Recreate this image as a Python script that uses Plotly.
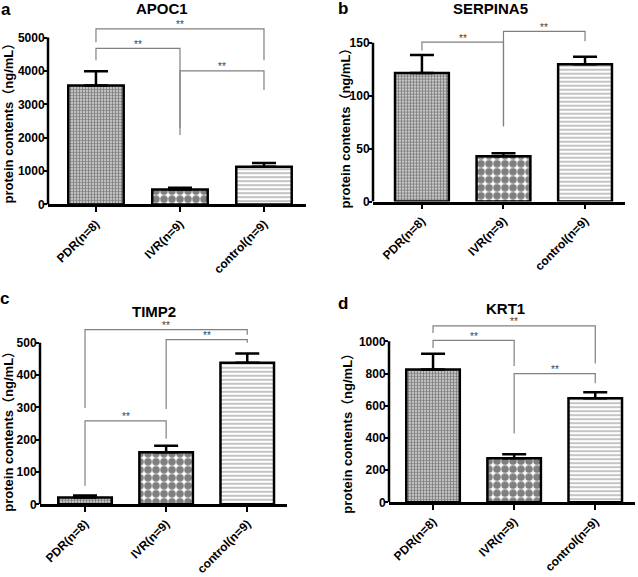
import plotly.graph_objects as go

groups = ["PDR(n=8)", "IVR(n=9)", "control(n=9)"]

apoc1_mean = [3560, 450, 1130]
apoc1_err = [430, 50, 110]
serpina5_mean = [121.5, 42.7, 129.7]
serpina5_err = [17, 3, 7]
timp2_mean = [21, 161, 438]
timp2_err = [6, 20, 29]
krt1_mean = [825, 274, 647]
krt1_err = [97, 25, 37]

# significance brackets: (left group, right group, bar height, left leg bottom, right leg bottom)
apoc1_sig = [(0, 2, 5257, 4860, 4320), (0, 1, 4675, 4320, 2300), (1, 2, 4000, 2080, 3430)]
serpina5_sig = [(0, 1, 150.6, 142.8, 71.2), (1, 2, 160.8, 71.2, 151.5)]
timp2_sig = [(0, 2, 541, 298, 525), (1, 2, 510, 295, 500), (0, 1, 258, 57.5, 203)]
krt1_sig = [(0, 2, 1096, 1051, 862), (0, 1, 1006, 959, 846), (1, 2, 799, 428, 740)]

W, H = 638, 577
FONT = "Liberation Sans, Arial, sans-serif"

patterns = [
    dict(shape=".", size=3, solidity=0.7, fgcolor="black", bgcolor="white", fillmode="overlay"),
    dict(shape=".", size=8, solidity=0.7, fgcolor="black", bgcolor="white", fillmode="overlay"),
    dict(shape="-", size=4, solidity=0.35, fgcolor="#555555", bgcolor="white", fillmode="overlay"),
]

panels = [
    dict(name="APOC1", letter="a", mean=apoc1_mean, err=apoc1_err, sig=apoc1_sig,
         ticks=[0, 1000, 2000, 3000, 4000, 5000], xpx=(48, 306), zero=207, tickpx=38,
         ytop=5550, xr=[-0.571, 2.5], title=(162, 9), lpos=(6, 10), ylab=(9, 122)),
    dict(name="SERPINA5", letter="b", mean=serpina5_mean, err=serpina5_err, sig=serpina5_sig,
         ticks=[0, 50, 100, 150], xpx=(373, 625), zero=204, tickpx=43.3,
         ytop=168, xr=[-0.6, 2.49], title=(490, 9), lpos=(343, 9), ylab=(345, 127)),
    dict(name="TIMP2", letter="c", mean=timp2_mean, err=timp2_err, sig=timp2_sig,
         ticks=[0, 100, 200, 300, 400, 500], xpx=(40, 287), zero=510.5, tickpx=347,
         ytop=565, xr=[-0.555, 2.49], title=(154, 315), lpos=(5, 302), ylab=(9, 434)),
    dict(name="KRT1", letter="d", mean=krt1_mean, err=krt1_err, sig=krt1_sig,
         ticks=[0, 200, 400, 600, 800, 1000], xpx=(389, 635), zero=508.5, tickpx=345.5,
         ytop=1125, xr=[-0.543, 2.49], title=(505, 312), lpos=(343, 307), ylab=(348, 436)),
]

fig = go.Figure()
annotations = []
shapes = []


def paper_text(x, y, text, size, angle=0, family=FONT):
    return dict(x=x / W, y=1 - y / H, xref="paper", yref="paper", text=text,
                xanchor="center", yanchor="middle", textangle=angle, showarrow=False,
                font=dict(family=family, size=size, color="black"))


for k, p in enumerate(panels):
    sfx = "" if k == 0 else str(k + 1)
    xa, ya = "x" + sfx, "y" + sfx
    for i, g in enumerate(groups):
        fig.add_trace(go.Bar(
            x=[g], y=[p["mean"][i]], xaxis=xa, yaxis=ya, width=0.66,
            marker=dict(color="white", line=dict(color="black", width=2.5), pattern=patterns[i]),
            error_y=dict(type="data", symmetric=False, array=[p["err"][i]], arrayminus=[0],
                         color="black", thickness=2.5, width=12),
            showlegend=False,
        ))
    for (a, b, top, yl, yr) in p["sig"]:
        fig.add_trace(go.Scatter(
            x=[groups[a], groups[a], groups[b], groups[b]], y=[yl, top, top, yr],
            xaxis=xa, yaxis=ya, mode="lines", line=dict(color="#808080", width=1.2),
            showlegend=False, hoverinfo="skip",
        ))
        annotations.append(dict(
            x=(a + b) / 2, y=top, xref=xa, yref=ya, text="**", showarrow=False,
            xanchor="center", yanchor="middle", yshift=4,
            font=dict(family=FONT, size=10, color="#404040"),
        ))
    scale = (p["zero"] - p["tickpx"]) / p["ticks"][-1]
    top_px = p["zero"] - p["ytop"] * scale
    fig.update_layout(**{
        ("xaxis" + sfx): dict(
            domain=[p["xpx"][0] / W, p["xpx"][1] / W], anchor=ya, type="category",
            categoryorder="array", categoryarray=groups, range=p["xr"],
            showline=True, linecolor="black", linewidth=2.5, ticks="outside",
            ticklen=5, tickwidth=2, tickcolor="black", tickangle=-45,
            tickfont=dict(family=FONT, size=12, color="black", weight="bold"),
            showgrid=False, zeroline=False, fixedrange=True,
        ),
        ("yaxis" + sfx): dict(
            domain=[1 - p["zero"] / H, 1 - top_px / H], anchor=xa, range=[0, p["ytop"]],
            tickvals=p["ticks"], showline=False, ticks="outside", ticklen=4,
            tickwidth=2, tickcolor="black", ticklabelstandoff=-4,
            tickfont=dict(family=FONT, size=12, color="black", weight="bold"),
            showgrid=False, zeroline=False, fixedrange=True,
        ),
    })
    shapes.append(dict(type="line", xref=xa + " domain", yref=ya, x0=0, x1=0,
                       y0=0, y1=p["ticks"][-1], line=dict(color="black", width=2.5)))
    annotations.append(paper_text(*p["title"], "<b>" + p["name"] + "</b>", 15))
    annotations.append(paper_text(*p["lpos"], "<b>" + p["letter"] + "</b>", 17))
    annotations.append(paper_text(*p["ylab"], "<b>protein contents（ng/mL）</b>", 13, angle=-90,
                                  family=FONT + ", Noto Sans CJK SC"))

fig.update_layout(
    width=W, height=H, margin=dict(l=0, r=0, t=0, b=0),
    paper_bgcolor="white", plot_bgcolor="white",
    annotations=annotations, shapes=shapes,
)
fig.write_html("out.html", config={"displayModeBar": False},
               post_script="document.body.style.margin='0';")
